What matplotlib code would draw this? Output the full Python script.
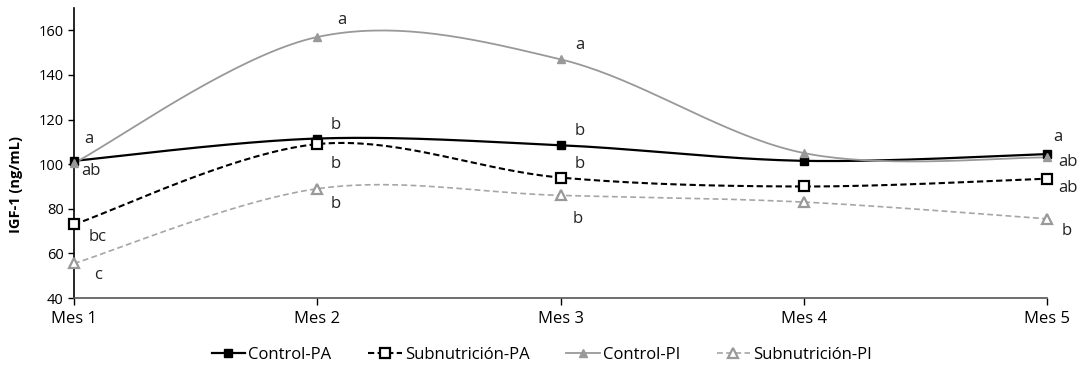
import numpy as np
import matplotlib
matplotlib.use('Agg')
import matplotlib.pyplot as plt
from matplotlib.lines import Line2D

plt.rcParams['font.family'] = ['Open Sans', 'DejaVu Sans']

meses = ['Mes 1', 'Mes 2', 'Mes 3', 'Mes 4', 'Mes 5']
control_pa = [101.5, 111.5, 108.5, 101.5, 104.5]
subnut_pa = [73, 109, 94, 90, 93.5]
control_pi = [100.5, 157, 147, 105, 103]
subnut_pi = [55.5, 89, 86, 83, 75.5]

# letras de significancia (None = sin letra)
letras_cpa = ['a', 'b', 'b', None, 'a']
letras_spa = ['bc', 'b', 'b', None, 'ab']
letras_cpi = ['ab', 'a', 'a', None, 'ab']
letras_spi = ['c', 'b', 'b', None, 'b']


def suavizar(y, n=40):
    # curva suavizada tipo Excel (Bezier con tangentes Catmull-Rom)
    y = np.asarray(y, dtype=float)
    x = np.arange(len(y), dtype=float)
    xs, ys = [], []
    for i in range(len(y) - 1):
        y0 = y[i - 1] if i > 0 else y[i]
        y3 = y[i + 2] if i + 2 < len(y) else y[i + 1]
        x0 = x[i - 1] if i > 0 else x[i]
        x3 = x[i + 2] if i + 2 < len(y) else x[i + 1]
        c1y = y[i] + (y[i + 1] - y0) / 6
        c2y = y[i + 1] - (y3 - y[i]) / 6
        c1x = x[i] + (x[i + 1] - x0) / 6
        c2x = x[i + 1] - (x3 - x[i]) / 6
        t = np.linspace(0, 1, n)
        bx = (1-t)**3*x[i] + 3*(1-t)**2*t*c1x + 3*(1-t)*t**2*c2x + t**3*x[i+1]
        by = (1-t)**3*y[i] + 3*(1-t)**2*t*c1y + 3*(1-t)*t**2*c2y + t**3*y[i+1]
        xs.extend(bx)
        ys.extend(by)
    return np.array(xs), np.array(ys)


fig = plt.figure(figsize=(10.84, 3.73), dpi=100)
ax = fig.add_axes([0.0683, 0.201, 0.8976, 0.7775])

gris = '#999999'
gris2 = '#a6a6a6'
series = [
    (control_pa, 'Control-PA', dict(color='black', lw=1.6, ls='-'),
     dict(marker='s', ms=6, mfc='black', mec='black', mew=1)),
    (subnut_pa, 'Subnutrición-PA', dict(color='black', lw=1.5, ls=(0, (3, 1.6))),
     dict(marker='s', ms=7.5, mfc='white', mec='black', mew=1.6)),
    (control_pi, 'Control-PI', dict(color=gris, lw=1.3, ls='-'),
     dict(marker='^', ms=6, mfc=gris, mec=gris, mew=1)),
    (subnut_pi, 'Subnutrición-PI', dict(color=gris2, lw=1.2, ls=(0, (3.5, 2))),
     dict(marker='^', ms=7, mfc='white', mec=gris, mew=1.6)),
]

x = np.arange(len(meses))
handles = []
for vals, nombre, lsty, msty in series:
    xs, ys = suavizar(vals)
    ax.plot(xs, ys, zorder=2, **lsty)
    ax.plot(x, vals, ls='none', zorder=3, clip_on=False, **msty)
    handles.append(Line2D([], [], label=nombre, **lsty, **msty))

# posiciones de las letras (desplazamiento en puntos)
desp = {
    0: [(11, 16), (17, -9), (12, -6), (17, -8)],
    1: [(13, 10), (13, -14), (18, 12), (13, -11)],
    2: [(14, 10), (14, 10), (14, 10), (12, -17)],
    4: [(8, 12), (15, -7), (15, -3), (14, -9)],
}
letras = [letras_cpa, letras_spa, letras_cpi, letras_spi]
vals_all = [control_pa, subnut_pa, control_pi, subnut_pi]
for i, (lts, vals) in enumerate(zip(letras, vals_all)):
    for j, l in enumerate(lts):
        if l is None:
            continue
        dx, dy = desp[j][i]
        ax.annotate(l, (j, vals[j]), xytext=(dx, dy), textcoords='offset points',
                    ha='center', va='center', fontsize=12, color='#222222')

ax.set_xlim(0, 4)
ax.set_ylim(40, 170)
ax.set_yticks(range(40, 161, 20))
ax.set_xticks(x)
ax.set_xticklabels(meses, fontsize=12)
ax.tick_params(axis='y', labelsize=10.5, length=4, width=1, direction='out')
ax.tick_params(axis='x', length=5, width=1, direction='out', pad=4)
for s in ['top', 'right']:
    ax.spines[s].set_visible(False)
ax.spines['left'].set_linewidth(1.2)
ax.spines['bottom'].set_linewidth(1.2)
ax.spines['bottom'].set_color('#555555')
ax.set_ylabel('IGF-1 (ng/mL)', fontsize=10.5, fontweight='bold')
ax.yaxis.set_label_coords(-0.052, 0.39)

fig.legend(handles=handles, loc='center', bbox_to_anchor=(0.5, 0.048), ncol=4,
           frameon=False, fontsize=12, handlelength=2.0, handletextpad=0.2,
           columnspacing=2.2)

fig.savefig('out.png', dpi=100)
